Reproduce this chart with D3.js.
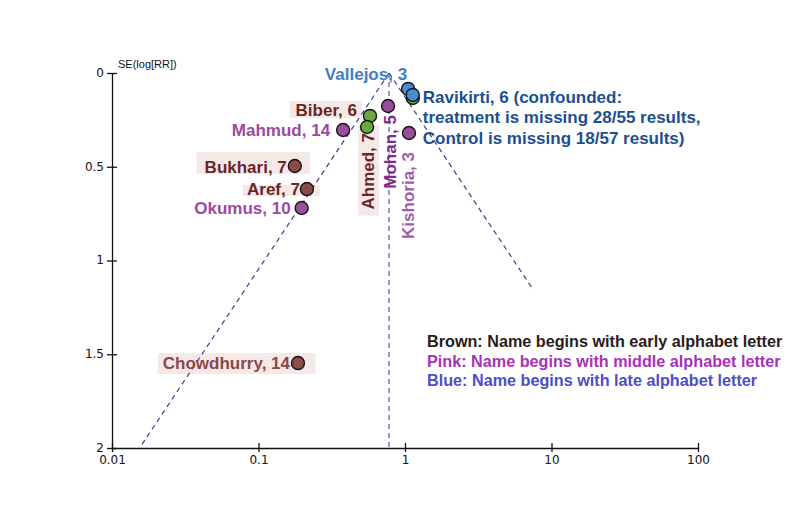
<!DOCTYPE html>
<html>
<head>
<meta charset="utf-8">
<script src="https://cdn.jsdelivr.net/npm/d3@7"></script>
<style>
  body { margin: 0; background: #fff; }
  svg text { font-family: "Liberation Sans", Arial, sans-serif; }
  .axis text { font-family: "DejaVu Sans", sans-serif; font-size: 12px; fill: #111; }
  .axis path, .axis line { stroke: #111; stroke-width: 1.3; }
</style>
</head>
<body>
<div id="chart"></div>
<script>
// studies: risk ratio and standard error of log(RR)
var studyNames = ["Ravikirti2", "Vallejos", "Ravikirti", "Biber", "Ahmed", "Mahmud", "Mohan", "Kishoria", "Bukhari", "Aref", "Okumus", "Chowdhurry"];
var studyRR = [1.13, 1.05, 1.13, 0.577, 0.551, 0.378, 0.766, 1.065, 0.177, 0.214, 0.197, 0.186];
var studySE = [0.133, 0.085, 0.117, 0.229, 0.288, 0.304, 0.176, 0.32, 0.496, 0.619, 0.72, 1.547];
var studyGroup = ["green", "blue", "blue", "green", "green", "pink", "pink", "pink", "brown", "brown", "pink", "brown"];
var studyLabels = [
  null,
  ["Vallejos, 3"],
  ["Ravikirti, 6 (confounded:", "treatment is missing 28/55 results,", "Control is missing 18/57 results)"],
  ["Biber, 6"],
  ["Ahmed, 7"],
  ["Mahmud, 14"],
  ["Mohan, 5"],
  ["Kishoria, 3"],
  ["Bukhari, 7"],
  ["Aref, 7"],
  ["Okumus, 10"],
  ["Chowdhurry, 14"]
];

// pooled estimate and how far the funnel arms go (SE)
var pooledRR = 0.778;
var funnelLeftSE = 2;
var funnelRightSE = 1.16;

var xTicks = [0.01, 0.1, 1, 10, 100];
var yTicks = [0, 0.5, 1, 1.5, 2];
var yTitle = "SE(log[RR])";
var legendLines = [
  "Brown: Name begins with early alphabet letter",
  "Pink: Name begins with middle alphabet letter",
  "Blue: Name begins with late alphabet letter"
];

// styling / layout
var dim = { width: 810, height: 529 };
var dotColors = { green: "#6aaa3c", blue: "#4a8ccc", pink: "#9a4e9e", brown: "#8c4a4a" };
var legendColors = ["#2b1b1b", "#a632b8", "#4b4fc4"];

// label placement relative to the dot: dx, dy, anchor, rotated, text colour, background pads [l, r, t, b]
var labelLayout = {
  Vallejos:   { dx: -1,  dy: -9, anchor: "end",   color: "#3d80c2" },
  Ravikirti:  { dx: 10,  dy: 8,  anchor: "start", color: "#1d4f8f" },
  Biber:      { dx: -13, dy: 0,  anchor: "end",   color: "#6a2626", bg: [6, 5, 0, -2] },
  Ahmed:      { dx: 7,   dy: 6,  anchor: "end",   color: "#6a2626", rotate: true, bg: [1, 1, 8, 6] },
  Mahmud:     { dx: -13, dy: 6,  anchor: "end",   color: "#9a4aa0" },
  Mohan:      { dx: 8,   dy: 9,  anchor: "end",   color: "#7b2d8b", rotate: true },
  Kishoria:   { dx: 5,   dy: 19, anchor: "end",   color: "#a65aae", rotate: true },
  Bukhari:    { dx: -8,  dy: 7,  anchor: "end",   color: "#6a2626", bg: [8, 23, 6, -3] },
  Aref:       { dx: -7,  dy: 6,  anchor: "end",   color: "#6a2626", bg: [4, 20, -5, -3] },
  Okumus:     { dx: -11, dy: 6,  anchor: "end",   color: "#9a4aa0" },
  Chowdhurry: { dx: -8,  dy: 6,  anchor: "end",   color: "#8a4848", bg: [5, 25, 1, 1] }
};

var x = d3.scaleLog().domain([0.01, 100]).range([112, 698]);
var y = d3.scaleLinear().domain([0, 2]).range([73, 448]);

var svg = d3.select("#chart")
  .append("svg")
  .attr("width", dim.width)
  .attr("height", dim.height);

var bgLayer = svg.append("g");
var lineLayer = svg.append("g");
var textLayer = svg.append("g");
var dotLayer = svg.append("g");

// axes
var xAxis = svg.append("g")
  .attr("class", "axis")
  .attr("transform", "translate(0," + y(2) + ")")
  .call(d3.axisBottom(x).tickValues(xTicks).tickSizeInner(4).tickSizeOuter(0).tickFormat(function(d) { return String(d); }));
xAxis.selectAll(".tick line").attr("y1", -5);
xAxis.selectAll(".tick text").attr("y", 7);

var yAxis = svg.append("g")
  .attr("class", "axis")
  .attr("transform", "translate(" + x(0.01) + ",0)")
  .call(d3.axisLeft(y).tickValues(yTicks).tickSizeInner(5).tickSizeOuter(0).tickFormat(function(d) { return String(d); }));
yAxis.selectAll(".tick line").attr("x1", 5);
yAxis.selectAll(".tick text").attr("x", -8).attr("dy", "0.28em");

svg.append("text")
  .attr("x", x(0.01) + 6)
  .attr("y", y(0) - 5)
  .attr("font-family", "DejaVu Sans, sans-serif")
  .attr("font-size", 11)
  .attr("fill", "#111")
  .text(yTitle);

// funnel: pooled +/- 1.96 SE on the log scale
function funnelRR(se, sign) {
  return pooledRR * Math.exp(sign * 1.96 * se);
}
var funnel = [
  [[pooledRR, 0], [funnelRR(funnelLeftSE, -1), funnelLeftSE]],
  [[pooledRR, 0], [pooledRR, funnelLeftSE]],
  [[pooledRR, 0], [funnelRR(funnelRightSE, 1), funnelRightSE]]
];
lineLayer.selectAll(".funnel")
  .data(funnel)
  .enter().append("line")
  .attr("class", "funnel")
  .attr("x1", function(d) { return x(d[0][0]); })
  .attr("y1", function(d) { return y(d[0][1]); })
  .attr("x2", function(d) { return x(d[1][0]); })
  .attr("y2", function(d) { return y(d[1][1]); })
  .attr("stroke", function(d, i) { return i === 1 ? "#5a4fb8" : "#3d3d92"; })
  .attr("stroke-width", 1.2)
  .attr("stroke-dasharray", "5,4");

var studies = studyNames.map(function(name, i) {
  return { name: name, rr: studyRR[i], se: studySE[i], group: studyGroup[i], label: studyLabels[i] };
});

// labels
studies.forEach(function(d) {
  var lay = labelLayout[d.name];
  if (!d.label || !lay) return;
  var px = x(d.rr) + lay.dx;
  var py = y(d.se) + lay.dy;
  var t = textLayer.append("text")
    .attr("transform", "translate(" + px + "," + py + ")" + (lay.rotate ? " rotate(-90)" : ""))
    .attr("text-anchor", lay.anchor)
    .attr("font-size", 17)
    .attr("font-weight", "bold")
    .attr("fill", lay.color);
  d.label.forEach(function(line, k) {
    t.append("tspan").attr("x", 0).attr("y", k * 20.5).text(line);
  });
  if (lay.bg) {
    var b = t.node().getBBox();
    var p = lay.bg;
    var rx, ry, rw, rh;
    if (lay.rotate) {
      // bbox is in the rotated frame: width runs along -y
      rx = px + b.y - p[0];
      ry = py - (b.x + b.width) - p[2];
      rw = b.height + p[0] + p[1];
      rh = b.width + p[2] + p[3];
    } else {
      rx = px + b.x - p[0];
      ry = py + b.y - p[2];
      rw = b.width + p[0] + p[1];
      rh = b.height + p[2] + p[3];
    }
    bgLayer.append("rect")
      .attr("x", rx).attr("y", ry)
      .attr("width", rw).attr("height", rh)
      .attr("fill", "#f5e9e7");
  }
});

// dots
dotLayer.selectAll(".study")
  .data(studies)
  .enter().append("circle")
  .attr("class", "study")
  .attr("cx", function(d) { return x(d.rr); })
  .attr("cy", function(d) { return y(d.se); })
  .attr("r", 6.5)
  .attr("fill", function(d) { return dotColors[d.group]; })
  .attr("stroke", "#151515")
  .attr("stroke-width", 1.4);

// legend
svg.append("g").selectAll("text")
  .data(legendLines)
  .enter().append("text")
  .attr("x", 427)
  .attr("y", function(d, i) { return 347 + i * 19.5; })
  .attr("font-size", 16.2)
  .attr("font-weight", "bold")
  .attr("fill", function(d, i) { return legendColors[i]; })
  .text(function(d) { return d; });
</script>
</body>
</html>
